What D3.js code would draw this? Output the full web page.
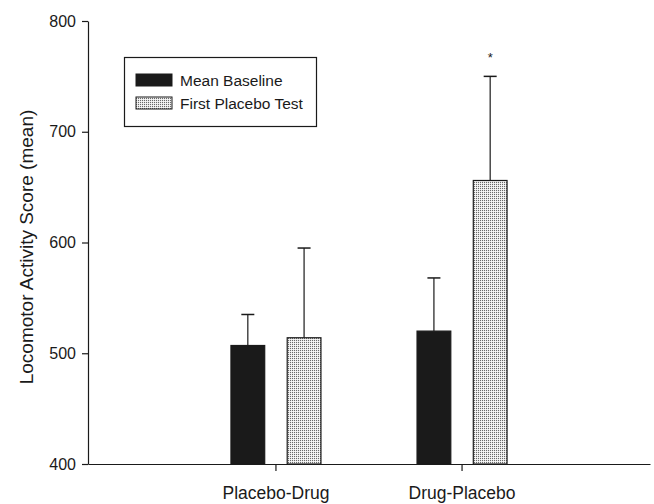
<!DOCTYPE html>
<html>
<head>
<meta charset="utf-8">
<title>Locomotor activity</title>
<script src="https://cdn.jsdelivr.net/npm/d3@7"></script>
<style>
body { margin: 0; background: #fff; }
svg text { font-family: Arial, "Liberation Sans", sans-serif; fill: #1a1a1a; }
.axis path, .axis line { stroke: #1a1a1a; stroke-width: 1.2px; }
</style>
</head>
<body>
<svg id="chart" width="654" height="504"></svg>
<script>
var groups = ["Placebo-Drug", "Drug-Placebo"];
var seriesNames = ["Mean Baseline", "First Placebo Test"];
var baselineMean = [507, 520];
var baselineErr = [28, 48];
var placeboMean = [514, 656];
var placeboErr = [81, 94];
var yTicks = [400, 500, 600, 700, 800];
var starred = [false, true];

var svg = d3.select("#chart");

// pattern for the placebo bars
var defs = svg.append("defs");
var pat = defs.append("pattern").attr("id", "dots")
  .attr("width", 2).attr("height", 2).attr("patternUnits", "userSpaceOnUse");
pat.append("rect").attr("width", 2).attr("height", 2).attr("fill", "#e8e8e8");
pat.append("rect").attr("width", 1).attr("height", 1).attr("fill", "#6a6a6a");
pat.append("rect").attr("x", 1).attr("y", 1).attr("width", 1).attr("height", 1).attr("fill", "#f8f8f8");

var x0 = d3.scaleBand().domain(groups).range([88, 650]).paddingInner(0).paddingOuter(0.51);
var x1 = d3.scaleBand().domain(seriesNames).range([-45, 45]).paddingInner(0.4);
var y = d3.scaleLinear().domain([400, 800]).range([464, 21]);

var data = [];
groups.forEach(function(g, i) {
  data.push({g: g, s: seriesNames[0], v: baselineMean[i], e: baselineErr[i], star: false});
  data.push({g: g, s: seriesNames[1], v: placeboMean[i], e: placeboErr[i], star: starred[i]});
});
function fillOf(s) { return s == seriesNames[0] ? "#1a1a1a" : "url(#dots)"; }
function cx(d) { return x0(d.g) + x0.bandwidth() / 2 + x1(d.s) + x1.bandwidth() / 2; }

// error bars (upper only)
svg.selectAll("line.err").data(data).enter().append("line")
  .attr("x1", cx).attr("x2", cx)
  .attr("y1", function(d) { return y(d.v); })
  .attr("y2", function(d) { return y(d.v + d.e); })
  .attr("stroke", "#1a1a1a").attr("stroke-width", 1.2);
svg.selectAll("line.cap").data(data).enter().append("line")
  .attr("x1", function(d) { return cx(d) - 6.5; })
  .attr("x2", function(d) { return cx(d) + 6.5; })
  .attr("y1", function(d) { return y(d.v + d.e); })
  .attr("y2", function(d) { return y(d.v + d.e); })
  .attr("stroke", "#1a1a1a").attr("stroke-width", 1.5);

svg.selectAll("rect.bar").data(data).enter().append("rect")
  .attr("x", function(d) { return x0(d.g) + x0.bandwidth() / 2 + x1(d.s); })
  .attr("width", x1.bandwidth())
  .attr("y", function(d) { return y(d.v); })
  .attr("height", function(d) { return y(400) - y(d.v); })
  .attr("fill", function(d) { return fillOf(d.s); })
  .attr("stroke", "#1a1a1a").attr("stroke-width", 1.2);

svg.selectAll("text.star").data(data.filter(function(d) { return d.star; })).enter().append("text")
  .attr("x", cx)
  .attr("y", function(d) { return y(d.v + d.e) - 14; })
  .attr("text-anchor", "middle")
  .style("font-size", "13px")
  .text("*");

// axes
var yAxis = svg.append("g").attr("class", "axis").attr("transform", "translate(88,0)")
  .call(d3.axisLeft(y).tickValues(yTicks).tickSize(6).tickPadding(6).tickSizeOuter(0));
yAxis.selectAll("text").style("font-size", "16px");

var xAxis = svg.append("g").attr("class", "axis").attr("transform", "translate(0,464)")
  .call(d3.axisBottom(x0).tickSize(7).tickSizeOuter(0).tickPadding(16));
xAxis.selectAll("text").style("font-size", "17.5px");

svg.append("text")
  .attr("transform", "translate(33,247) rotate(-90)")
  .attr("text-anchor", "middle")
  .style("font-size", "19px")
  .text("Locomotor Activity Score (mean)");

// legend
var leg = svg.append("g");
leg.append("rect").attr("x", 124.5).attr("y", 57.5).attr("width", 192).attr("height", 69)
  .attr("fill", "#fff").attr("stroke", "#1a1a1a").attr("stroke-width", 1.2);
seriesNames.forEach(function(s, i) {
  leg.append("rect").attr("x", 136).attr("y", 74 + i * 23).attr("width", 36).attr("height", 12)
    .attr("fill", fillOf(s)).attr("stroke", "#1a1a1a").attr("stroke-width", 1);
  leg.append("text").attr("x", 180).attr("y", 86 + i * 23)
    .style("font-size", "15.5px").text(s);
});
</script>
</body>
</html>
